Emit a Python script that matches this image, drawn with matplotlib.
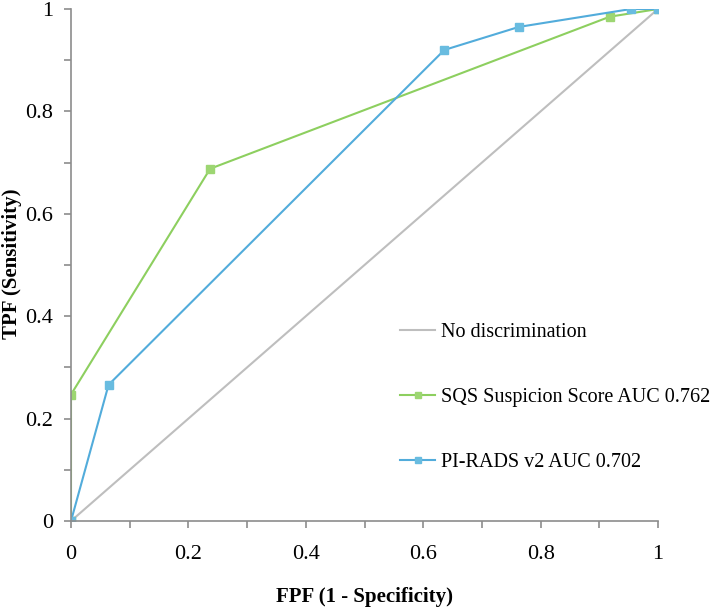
import numpy as np
import matplotlib
matplotlib.use('Agg')
import matplotlib.pyplot as plt
from matplotlib.ticker import MultipleLocator

# ROC 데이터
diag_x = [0, 1]
diag_y = [0, 1]

sqs_fpf = [0, 0, 0.237, 0.918, 1]
sqs_tpf = [0, 0.247, 0.688, 0.985, 1]

pirads_fpf = [0, 0.064, 0.636, 0.763, 0.954, 1]
pirads_tpf = [0, 0.266, 0.920, 0.965, 1.0, 1]

labels = ['No discrimination', 'SQS Suspicion Score AUC 0.762', 'PI-RADS v2 AUC 0.702']

plt.rcParams['font.family'] = ['Liberation Serif', 'DejaVu Serif']

fig = plt.figure(figsize=(7.2, 6.09), dpi=100)
ax = fig.add_axes([71/720, 1 - 521/609, 587/720, 512/609])

ax.plot(diag_x, diag_y, color='#BEBEBE', linewidth=1.5, label=labels[0])
ax.plot(sqs_fpf, sqs_tpf, color='#8DCF5F', linewidth=1.5, marker='s', markersize=5.5,
        markerfacecolor='#9DD672', markeredgecolor='#9DD672', label=labels[1])
ax.plot(pirads_fpf, pirads_tpf, color='#52ACDB', linewidth=1.5, marker='s', markersize=5.5,
        markerfacecolor='#69BCE0', markeredgecolor='#69BCE0', label=labels[2])

ax.set_xlim(0, 1)
ax.set_ylim(0, 1)
ax.xaxis.set_major_locator(MultipleLocator(0.2))
ax.yaxis.set_major_locator(MultipleLocator(0.2))
ax.xaxis.set_minor_locator(MultipleLocator(0.1))
ax.yaxis.set_minor_locator(MultipleLocator(0.1))
fmt = lambda v, p: '0' if abs(v) < 1e-9 else ('1' if abs(v - 1) < 1e-9 else f'{v:.1f}')
ax.xaxis.set_major_formatter(plt.FuncFormatter(fmt))
ax.yaxis.set_major_formatter(plt.FuncFormatter(fmt))

for s in ['top', 'right']:
    ax.spines[s].set_visible(False)
for s in ['left', 'bottom']:
    ax.spines[s].set_color('#8C8C8C')
    ax.spines[s].set_linewidth(1.2)
ax.tick_params(which='both', direction='out', length=5, width=1.2, color='#8C8C8C')
ax.tick_params(axis='both', which='major', labelsize=16, pad=8)
ax.tick_params(axis='x', which='major', pad=12)

ax.set_xlabel('FPF (1 - Specificity)', fontsize=15, fontweight='bold')
ax.set_ylabel('TPF (Sensitivity)', fontsize=15, fontweight='bold')
ax.xaxis.set_label_coords(0.5, -0.128)
ax.yaxis.set_label_coords(-0.083, 0.502)

ax.legend(loc='upper left', bbox_to_anchor=(0.53, 0.423), frameon=False, fontsize=14.5,
          handlelength=1.75, handletextpad=0.25, labelspacing=2.3, markerscale=0.85)

plt.savefig('out.png', dpi=100)
